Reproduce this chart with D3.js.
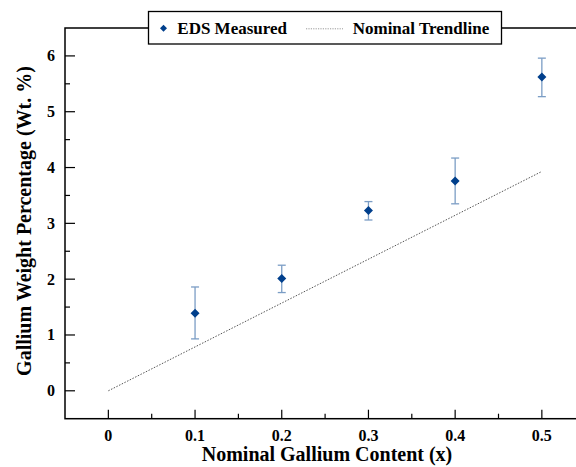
<!DOCTYPE html>
<html><head><meta charset="utf-8">
<script src="https://cdn.jsdelivr.net/npm/d3@7"></script>
<style>body{margin:0;background:#fff}svg{display:block}text{font-family:"Liberation Serif","Times New Roman",serif;font-weight:bold}</style>
</head><body>
<svg id="c" width="576" height="467"></svg>
<script>
const xValues = [0.1, 0.2, 0.3, 0.4, 0.5];
const measured = [1.39, 2.01, 3.23, 3.76, 5.62];
const errLow = [0.93, 1.76, 3.06, 3.35, 5.27];
const errHigh = [1.86, 2.25, 3.39, 4.17, 5.96];
const trendX = [0, 0.5];
const trendY = [0, 3.93];
const xTicks = [0, 0.1, 0.2, 0.3, 0.4, 0.5];
const yTicks = [0, 1, 2, 3, 4, 5, 6];

(function () {
const svg = d3.select("#c");
const mLeft = 65, mTop = 28, mBottom = 418.7;
const x = d3.scaleLinear().domain([-0.05, 0.55]).range([mLeft, mLeft + 520.2]);
const y = d3.scaleLinear().domain([-0.5, 6.5]).range([mBottom, mTop]);

svg.append("rect").attr("x", mLeft).attr("y", mTop).attr("width", x(0.55) - mLeft).attr("height", mBottom - mTop)
  .attr("fill", "none").attr("stroke", "#000").attr("stroke-width", 1.5);

const xMinor = d3.range(0, 11).map(i => i * 0.05);
svg.selectAll(".xt").data(xMinor).enter().append("line")
  .attr("x1", d => x(d)).attr("x2", d => x(d))
  .attr("y1", mBottom).attr("y2", (d, i) => mBottom - (i % 2 === 0 ? 9 : 5))
  .attr("stroke", "#000").attr("stroke-width", 1.2);
svg.selectAll(".xl").data(xTicks).enter().append("text")
  .attr("x", d => x(d)).attr("y", 440.5).attr("text-anchor", "middle")
  .attr("font-size", 16)
  .text(d => d === 0 ? "0" : d3.format(".1f")(d));

const yMinor = d3.range(0, 13).map(i => i * 0.5);
svg.selectAll(".yt").data(yMinor).enter().append("line")
  .attr("y1", d => y(d)).attr("y2", d => y(d))
  .attr("x1", mLeft).attr("x2", (d, i) => mLeft + (i % 2 === 0 ? 10 : 5))
  .attr("stroke", "#000").attr("stroke-width", 1.2);
svg.selectAll(".yl").data(yTicks).enter().append("text")
  .attr("x", 55).attr("y", d => y(d) + 5.5).attr("text-anchor", "end")
  .attr("font-size", 16)
  .text(d => d);

svg.append("text").attr("x", 327).attr("y", 461).attr("text-anchor", "middle")
  .attr("font-size", 20)
  .text("Nominal Gallium Content (x)");
svg.append("text").attr("transform", "translate(31,221) rotate(-90)").attr("text-anchor", "middle")
  .attr("font-size", 20)
  .text("Gallium Weight Percentage (Wt. %)");

svg.append("path").datum(trendX.map((v, i) => [v, trendY[i]]))
  .attr("d", d3.line().x(d => x(d[0])).y(d => y(d[1])))
  .attr("stroke", "#555").attr("stroke-width", 1).attr("stroke-dasharray", "1.5,1.5").attr("fill", "none");

const ebColor = "#7b9dc5";
const g = svg.append("g");
xValues.forEach((xv, i) => {
  const cx = x(xv);
  g.append("line").attr("x1", cx).attr("x2", cx).attr("y1", y(errLow[i])).attr("y2", y(errHigh[i]))
    .attr("stroke", ebColor).attr("stroke-width", 1.3);
  [errLow[i], errHigh[i]].forEach(v => {
    g.append("line").attr("x1", cx - 4).attr("x2", cx + 4).attr("y1", y(v)).attr("y2", y(v))
      .attr("stroke", ebColor).attr("stroke-width", 1.3);
  });
});
const diamond = "M0,-4.5L4.5,0L0,4.5L-4.5,0Z";
svg.selectAll(".pt").data(xValues).enter().append("path")
  .attr("d", diamond).attr("transform", (d, i) => `translate(${x(d)},${y(measured[i])})`)
  .attr("fill", "#003f8c");

const lg = svg.append("g");
lg.append("rect").attr("x", 148.5).attr("y", 11.5).attr("width", 353).attr("height", 32.5)
  .attr("fill", "#fff").attr("stroke", "#000").attr("stroke-width", 1.3);
lg.append("path").attr("d", "M0,-3.5L3.5,0L0,3.5L-3.5,0Z").attr("transform", "translate(163.5,28.3)").attr("fill", "#003f8c");
lg.append("text").attr("x", 177.3).attr("y", 34.3).attr("font-size", 17).text("EDS Measured");
lg.append("line").attr("x1", 306).attr("x2", 343).attr("y1", 28.8).attr("y2", 28.8)
  .attr("stroke", "#999").attr("stroke-width", 1).attr("stroke-dasharray", "1.2,1.2");
lg.append("text").attr("x", 352.7).attr("y", 34.3).attr("font-size", 17).text("Nominal Trendline");
})();
</script>
</body></html>
